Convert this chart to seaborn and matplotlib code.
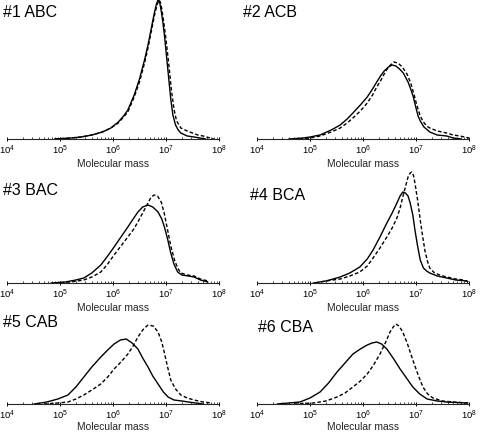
import numpy as np
import pandas as pd
import matplotlib
matplotlib.use("Agg")
import matplotlib.pyplot as plt
import seaborn as sns
from matplotlib.ticker import LogLocator, NullFormatter, LogFormatterMathtext

sns.set_style("ticks")
plt.rcParams["font.family"] = ["Liberation Sans", "DejaVu Sans"]
plt.rcParams["mathtext.fontset"] = "custom"
plt.rcParams["mathtext.rm"] = "Liberation Sans"
plt.rcParams["mathtext.it"] = "Liberation Sans:italic"
plt.rcParams["mathtext.bf"] = "Liberation Sans:bold"

# ---------------- data (log10 molecular mass, relative signal) ----------------
titles = ["#1 ABC", "#2 ACB", "#3 BAC", "#4 BCA", "#5 CAB", "#6 CBA"]

p1_solid_logm = [4.9, 5.2, 5.4, 5.6, 5.8, 5.96, 6.1, 6.2, 6.28, 6.4, 6.5, 6.6, 6.66, 6.72, 6.78, 6.82, 6.85,
                 6.88, 6.91, 6.94, 6.97, 7.0, 7.03, 7.06, 7.09, 7.13, 7.18, 7.23, 7.28, 7.4, 7.53, 7.75]
p1_solid_sig = [0, 1, 2, 4, 7, 11, 17, 23, 29, 44, 60, 80, 94, 110, 126, 135, 139,
                137, 128, 117, 104, 88, 72, 56, 40, 24, 14, 9, 6, 3, 2, 0]
p1_dash_logm = [4.9, 5.2, 5.4, 5.6, 5.8, 5.96, 6.1, 6.2, 6.28, 6.4, 6.5, 6.6, 6.66, 6.72, 6.78, 6.83, 6.87,
                6.9, 6.93, 6.96, 6.99, 7.02, 7.05, 7.1, 7.15, 7.2, 7.28, 7.4, 7.5, 7.6, 7.7, 7.8, 7.9]
p1_dash_sig = [0, 1, 2, 4, 7, 11, 16, 22, 27, 42, 57, 77, 91, 107, 123, 134, 139,
               136, 127, 116, 104, 90, 76, 50, 30, 18, 11, 8, 6, 4, 3, 1.5, 0]

p2_solid_logm = [4.6, 4.87, 5.0, 5.19, 5.4, 5.57, 5.7, 5.81, 5.95, 6.08, 6.18, 6.26, 6.33, 6.4, 6.48, 6.55,
                 6.62, 6.69, 6.76, 6.85, 6.9, 6.95, 7.0, 7.04, 7.08, 7.15, 7.26, 7.4, 7.58, 7.7, 7.85]
p2_solid_sig = [0, 1, 2, 4, 9, 14, 20, 26, 34, 42, 50, 57, 63, 68, 72, 74,
                73, 70, 66, 57, 50, 42, 31, 23, 18, 12, 7, 4, 3, 1, 0]
p2_dash_logm = [4.8, 5.0, 5.19, 5.4, 5.57, 5.7, 5.81, 5.95, 6.08, 6.18, 6.26, 6.33, 6.4, 6.48, 6.58,
                6.66, 6.74, 6.83, 6.9, 6.96, 7.02, 7.08, 7.14, 7.2, 7.26, 7.4, 7.58, 7.7, 7.83, 8.0]
p2_dash_sig = [0, 1, 3, 7, 11, 16, 21, 28, 36, 44, 52, 58, 65, 72, 77,
               76, 72, 65, 56, 45, 33, 23, 17, 13, 11, 8, 6, 4, 3, 1]

p3_solid_logm = [4.83, 5.1, 5.3, 5.45, 5.6, 5.77, 5.9, 6.02, 6.15, 6.28, 6.38, 6.47, 6.56, 6.66,
                 6.75, 6.85, 6.92, 6.97, 7.03, 7.09, 7.15, 7.22, 7.3, 7.42, 7.53, 7.65, 7.79]
p3_solid_sig = [0, 1, 3, 5, 10, 18, 27, 36, 46, 56, 64, 71, 76, 78,
                76, 71, 64, 56, 44, 30, 19, 11, 8, 7, 6, 3, 1]
p3_dash_logm = [4.9, 5.2, 5.45, 5.6, 5.77, 5.9, 6.02, 6.15, 6.28, 6.38, 6.47, 6.56, 6.66, 6.72, 6.78,
                6.84, 6.91, 6.97, 7.03, 7.09, 7.16, 7.22, 7.28, 7.4, 7.53, 7.65, 7.79]
p3_dash_sig = [0, 1, 3, 6, 11, 19, 28, 37, 46, 53, 61, 70, 80, 86, 88,
               87, 81, 69, 53, 37, 23, 15, 10, 8, 7, 4, 2]

p4_solid_logm = [5.06, 5.3, 5.57, 5.75, 5.94, 6.08, 6.19, 6.32, 6.45, 6.55, 6.64, 6.7, 6.75,
                 6.8, 6.85, 6.89, 6.94, 6.98, 7.03, 7.08, 7.14, 7.2, 7.26, 7.4, 7.58, 7.75, 7.96]
p4_solid_sig = [0, 2, 6, 10, 16, 24, 33, 46, 60, 70, 80, 87, 91,
                90, 87, 80, 68, 53, 37, 23, 15, 12, 10, 7, 5, 3, 2]
p4_dash_logm = [5.1, 5.3, 5.57, 5.75, 5.94, 6.08, 6.19, 6.32, 6.45, 6.55, 6.64, 6.7, 6.75, 6.8, 6.85,
                6.89, 6.92, 6.95, 6.98, 7.03, 7.08, 7.13, 7.17, 7.22, 7.26, 7.35, 7.45, 7.58, 7.75, 7.9, 8.0]
p4_dash_sig = [0, 2, 4, 7, 11, 17, 25, 35, 46, 55, 65, 75, 86, 96, 106,
               110, 111, 108, 100, 83, 63, 45, 32, 21, 15, 10, 8, 6, 4, 3, 1]

p5_solid_logm = [4.51, 4.75, 4.96, 5.15, 5.3, 5.45, 5.6, 5.77, 5.9, 6.02, 6.14, 6.25,
                 6.36, 6.47, 6.56, 6.66, 6.75, 6.85, 6.95, 7.04, 7.15, 7.3, 7.42, 7.7]
p5_solid_sig = [0, 2, 5, 9, 17, 27, 37, 47, 54, 60, 64, 65,
                61, 55, 46, 37, 28, 20, 12, 7, 4, 3, 2, 0]
p5_dash_logm = [4.7, 4.96, 5.15, 5.3, 5.45, 5.6, 5.77, 5.9, 6.02, 6.15, 6.28, 6.38, 6.47, 6.56, 6.66,
                6.76, 6.85, 6.92, 6.97, 7.03, 7.09, 7.18, 7.28, 7.4, 7.53, 7.7, 7.85]
p5_dash_sig = [0, 1, 2, 5, 9, 14, 20, 27, 35, 42, 50, 58, 67, 74, 79,
               78, 72, 62, 51, 37, 24, 15, 9, 6, 4, 2, 1]

p6_solid_logm = [4.38, 4.6, 4.81, 5.0, 5.19, 5.35, 5.51, 5.66, 5.81, 5.95, 6.08, 6.17, 6.26,
                 6.35, 6.45, 6.58, 6.70, 6.82, 6.94, 7.07, 7.21, 7.4, 7.58, 7.96]
p6_solid_sig = [0, 1, 2, 6, 12, 21, 32, 41, 50, 55, 59, 61, 62,
                60, 55, 45, 35, 26, 17, 10, 5, 3, 2, 1]
p6_dash_logm = [4.7, 5.06, 5.3, 5.51, 5.66, 5.81, 5.95, 6.08, 6.2, 6.32, 6.42, 6.51, 6.57, 6.62,
                6.68, 6.75, 6.84, 6.94, 7.04, 7.13, 7.22, 7.32, 7.5, 7.7, 8.0]
p6_dash_sig = [0, 1, 3, 7, 11, 17, 23, 30, 39, 50, 61, 72, 77, 80,
               78, 72, 60, 44, 29, 17, 10, 6, 3, 2, 1]

panels = [
    (p1_solid_logm, p1_solid_sig, p1_dash_logm, p1_dash_sig),
    (p2_solid_logm, p2_solid_sig, p2_dash_logm, p2_dash_sig),
    (p3_solid_logm, p3_solid_sig, p3_dash_logm, p3_dash_sig),
    (p4_solid_logm, p4_solid_sig, p4_dash_logm, p4_dash_sig),
    (p5_solid_logm, p5_solid_sig, p5_dash_logm, p5_dash_sig),
    (p6_solid_logm, p6_solid_sig, p6_dash_logm, p6_dash_sig),
]

# ---------------- layout (pixels) ----------------
W, H = 480, 433
fig = plt.figure(figsize=(W / 100, H / 100), dpi=100)
col_x = [7, 257]
row_axis_y = [139, 283, 404]
ax_w = 212
ax_h = 139
title_pos = [(3, 17), (243, 17), (3, 195), (250, 200), (3, 327), (258, 332)]
label_pad = [1.5, 1.5, 0.4]

for i, (sl, ss, dl, ds) in enumerate(panels):
    r, c = divmod(i, 2)
    x0 = col_x[c]
    yb = row_axis_y[r]
    ax = fig.add_axes([x0 / W, 1 - yb / H, ax_w / W, ax_h / H])
    ax.patch.set_alpha(0)
    df = pd.concat([
        pd.DataFrame({"mass": 10 ** np.array(sl), "signal": ss, "series": "solid"}),
        pd.DataFrame({"mass": 10 ** np.array(dl), "signal": ds, "series": "dashed"}),
    ])
    sns.lineplot(data=df, x="mass", y="signal", style="series",
                 dashes={"solid": "", "dashed": (2.6, 1.6)},
                 color="black", linewidth=1.0, legend=False, estimator=None,
                 sort=False, ax=ax, clip_on=False)
    for ln in ax.get_lines():
        ln.set_solid_joinstyle("round")
        ln.set_dash_joinstyle("round")
    ax.set_xscale("log")
    ax.set_xlim(1e4, 1e8)
    ax.set_ylim(0, ax_h)
    ax.set_yticks([])
    ax.set_ylabel("")
    for s in ["left", "top", "right"]:
        ax.spines[s].set_visible(False)
    ax.spines["bottom"].set_linewidth(0.8)
    ax.xaxis.set_major_locator(LogLocator(base=10, numticks=10))
    ax.xaxis.set_major_formatter(LogFormatterMathtext())
    ax.xaxis.set_minor_locator(LogLocator(base=10, subs=np.arange(2, 10), numticks=20))
    ax.xaxis.set_minor_formatter(NullFormatter())
    ax.tick_params(axis="x", which="major", direction="inout", length=3.5,
                   width=0.7, labelsize=6.8, pad=1.3, colors="black")
    ax.tick_params(axis="x", which="minor", direction="in", length=1.6,
                   width=0.5, colors="black")
    ax.set_xlabel("Molecular mass", fontsize=7.4, labelpad=label_pad[r])
    tx, ty = title_pos[i]
    fig.text(tx / W, 1 - ty / H, titles[i], fontsize=11.5, ha="left",
             va="baseline", color="black")

fig.savefig("out.png", dpi=100)
